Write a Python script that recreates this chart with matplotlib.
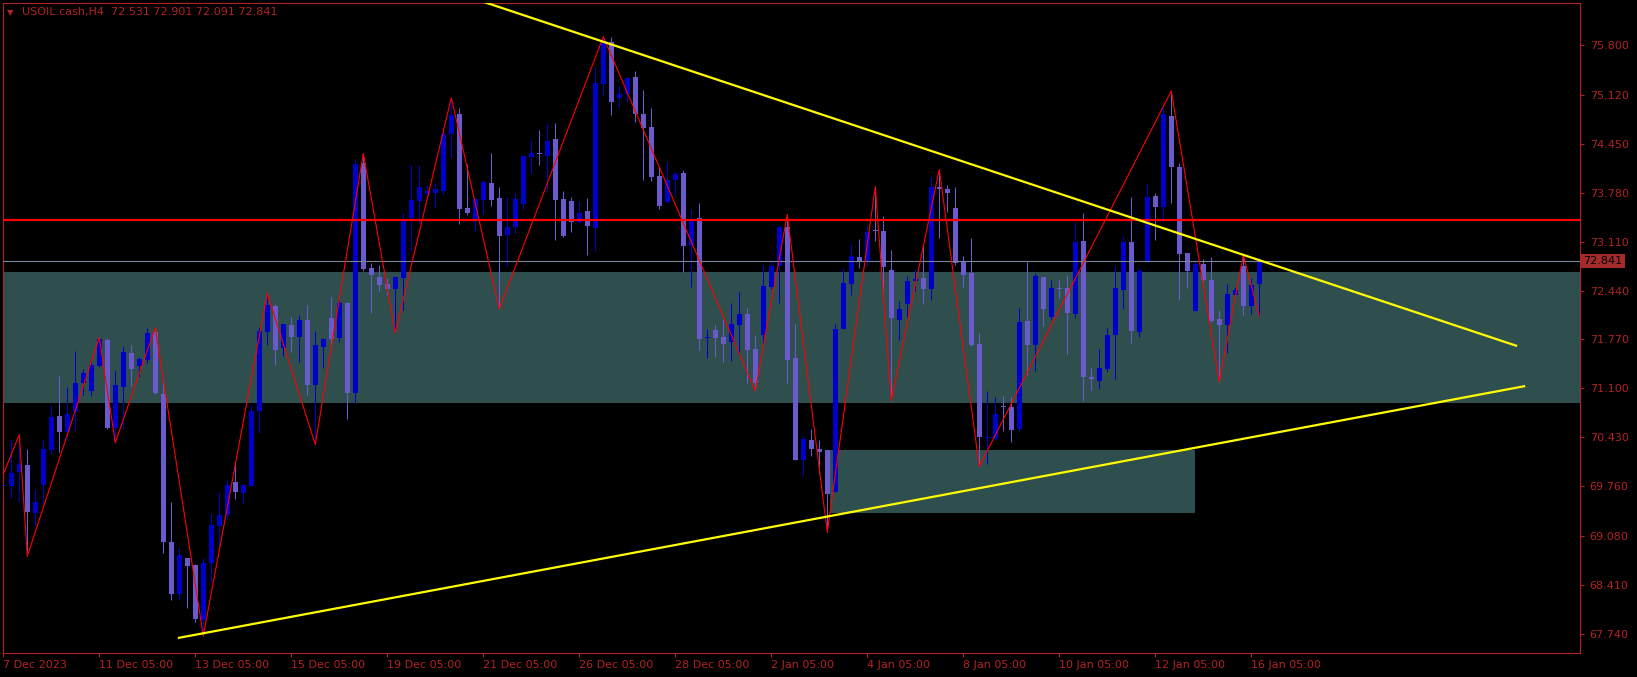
import matplotlib
matplotlib.use('Agg')
import matplotlib.pyplot as plt
import matplotlib.transforms as mtransforms
from matplotlib.patches import Rectangle
import numpy as np

# USOIL.cash H4 candles, 7 Dec 2023 -> 16 Jan 2024 (bar index 0..157)
opens = [
    69.758, 69.769, 69.949, 70.053, 69.392, 69.774, 70.260, 70.724, 70.506, 70.779,
    71.177, 71.068, 71.412, 71.762, 70.560, 71.123, 71.587, 71.407, 71.494, 71.871,
    71.025, 68.993, 68.283, 68.775, 68.682, 67.928, 68.709, 69.212, 69.359, 69.823,
    69.665, 69.769, 70.795, 71.877, 72.226, 71.653, 71.969, 71.806, 72.035, 71.145,
    71.669, 72.062, 71.795, 72.270, 71.030, 74.181, 72.750, 72.625, 72.532, 72.461,
    72.614, 73.433, 73.673, 73.761, 73.782, 73.810, 74.591, 74.858, 73.569, 73.417,
    73.684, 73.913, 73.706, 73.198, 73.313, 73.619, 74.274, 74.323, 74.285, 74.514,
    73.690, 73.673, 73.373, 73.526, 73.296, 75.273, 75.847, 75.071, 75.126, 75.366,
    74.858, 74.683, 74.012, 73.657, 73.957, 74.055, 73.045, 73.433, 71.784, 71.898,
    71.806, 71.734, 71.975, 72.117, 71.642, 71.833, 72.488, 72.778, 73.313, 71.516,
    70.124, 70.397, 70.276, 70.249, 69.686, 71.915, 72.532, 72.898, 72.827, 73.264,
    73.253, 72.728, 72.040, 72.253, 72.565, 72.614, 72.461, 73.864, 73.826, 73.569,
    72.843, 72.679, 71.707, 70.424, 70.413, 70.861, 70.850, 70.549, 72.024, 71.696,
    72.625, 72.079, 72.477, 72.477, 72.122, 73.122, 71.254, 71.205, 71.369, 71.833,
    72.450, 73.105, 71.871, 72.832, 73.733, 73.591, 74.836, 74.137, 72.952, 72.160,
    72.805, 72.586, 72.051, 71.969, 72.379, 72.778, 72.226, 72.531,
]
highs = [
    69.867, 70.413, 70.468, 70.276, 69.703, 70.397, 70.877, 71.270, 71.123, 71.614,
    71.363, 71.505, 71.795, 71.795, 71.352, 71.680, 71.696, 71.532, 71.931, 71.931,
    71.232, 69.539, 68.928, 68.775, 68.693, 68.775, 69.386, 69.676, 69.840, 70.085,
    69.796, 70.877, 71.942, 72.401, 72.259, 71.986, 72.079, 72.106, 72.242, 71.888,
    71.795, 72.352, 72.308, 72.281, 74.225, 74.318, 72.816, 72.789, 72.608, 72.636,
    73.498, 74.154, 74.165, 73.881, 73.908, 74.645, 75.082, 74.935, 74.170, 73.690,
    73.952, 74.318, 73.864, 73.728, 73.782, 74.301, 74.498, 74.634, 74.716, 74.738,
    73.799, 73.722, 73.662, 73.706, 75.503, 75.918, 75.912, 75.246, 75.366, 75.448,
    75.191, 74.946, 74.126, 74.203, 74.072, 74.094, 73.564, 73.646, 71.915, 71.969,
    72.051, 72.270, 72.423, 72.204, 71.833, 72.789, 72.860, 73.324, 73.482, 71.980,
    70.468, 70.549, 70.397, 70.260, 71.980, 72.745, 73.078, 73.143, 73.318, 73.864,
    73.455, 72.996, 72.297, 72.641, 72.734, 73.078, 73.990, 74.099, 73.892, 73.853,
    72.914, 73.154, 71.860, 71.068, 70.986, 70.997, 70.986, 72.199, 72.832, 72.679,
    72.625, 72.586, 72.586, 72.652, 73.373, 73.498, 71.380, 71.642, 71.926, 72.778,
    73.182, 73.728, 72.750, 73.908, 73.782, 75.000, 75.175, 74.192, 72.952, 72.843,
    72.870, 72.898, 72.171, 72.532, 72.488, 72.925, 72.614, 72.901,
]
lows = [
    69.567, 69.594, 69.539, 68.802, 69.212, 69.512, 70.195, 70.222, 70.386, 70.522,
    71.014, 70.997, 71.396, 70.539, 70.358, 70.549, 71.134, 71.259, 71.450, 71.025,
    68.851, 68.201, 68.201, 68.092, 67.901, 67.710, 68.446, 68.939, 69.293, 69.578,
    69.523, 69.758, 70.495, 71.696, 71.423, 71.543, 71.603, 71.467, 71.014, 70.331,
    71.385, 71.669, 71.734, 70.686, 70.904, 72.707, 72.133, 72.434, 72.379, 71.860,
    72.171, 72.980, 73.362, 73.690, 73.591, 73.744, 74.263, 73.345, 73.471, 73.253,
    73.488, 73.597, 72.188, 72.772, 73.209, 73.553, 74.055, 74.154, 73.799, 73.138,
    73.171, 73.236, 73.345, 72.925, 72.980, 75.120, 74.847, 74.935, 75.028, 74.744,
    73.952, 73.946, 73.564, 73.646, 73.744, 72.690, 72.488, 71.625, 71.516, 71.532,
    71.461, 71.472, 71.560, 71.177, 71.068, 71.696, 72.461, 72.270, 71.167, 70.113,
    69.905, 70.167, 69.921, 69.130, 69.676, 71.915, 72.379, 72.750, 72.772, 73.116,
    72.341, 70.932, 71.762, 72.079, 72.434, 72.259, 72.313, 73.154, 73.515, 72.789,
    72.488, 71.680, 70.031, 70.058, 70.386, 70.511, 70.369, 70.522, 71.287, 71.341,
    71.953, 72.035, 72.341, 71.576, 72.062, 70.921, 71.079, 71.096, 71.330, 71.232,
    72.188, 71.724, 71.806, 72.827, 73.127, 73.373, 73.646, 72.313, 72.477, 72.160,
    72.554, 72.013, 71.188, 71.587, 72.352, 72.106, 72.117, 72.091,
]
closes = [
    69.780, 69.943, 70.058, 69.408, 69.539, 70.271, 70.708, 70.506, 70.752, 71.172,
    71.308, 71.418, 71.778, 70.560, 71.145, 71.598, 71.369, 71.500, 71.860, 71.041,
    68.993, 68.283, 68.818, 68.665, 67.939, 68.709, 69.222, 69.365, 69.774, 69.681,
    69.774, 70.784, 71.888, 72.242, 71.625, 71.980, 71.806, 72.035, 71.145, 71.696,
    71.778, 71.778, 72.270, 71.041, 74.170, 72.734, 72.647, 72.515, 72.461, 72.625,
    73.427, 73.679, 73.853, 73.799, 73.837, 74.591, 74.847, 73.564, 73.509, 73.690,
    73.930, 73.684, 73.182, 73.307, 73.690, 74.279, 74.323, 74.312, 74.487, 73.684,
    73.182, 73.373, 73.509, 73.318, 75.284, 75.847, 75.028, 75.137, 75.355, 74.864,
    74.673, 73.990, 73.602, 73.952, 74.039, 73.045, 73.417, 71.778, 71.800, 71.795,
    71.713, 71.980, 72.117, 71.631, 71.167, 72.504, 72.778, 73.313, 71.494, 70.124,
    70.413, 70.276, 70.233, 69.659, 71.915, 72.543, 72.914, 72.827, 73.242, 73.253,
    72.756, 72.062, 72.188, 72.570, 72.597, 72.461, 73.853, 73.826, 73.782, 72.816,
    72.652, 71.696, 70.440, 70.440, 70.752, 70.839, 70.533, 72.008, 71.696, 72.641,
    72.188, 72.477, 72.466, 72.133, 73.100, 71.259, 71.232, 71.380, 71.833, 72.477,
    73.105, 71.888, 72.707, 73.728, 73.591, 74.853, 74.137, 72.941, 72.707, 72.805,
    72.586, 72.024, 71.969, 72.395, 72.450, 72.226, 72.515, 72.841,
]

# zigzag swing points (bar, price)
zz_bars = [0, 2, 3, 12, 14, 19, 25, 33, 39, 45, 49, 56, 62, 75, 94, 98, 103,
           109, 111, 117, 122, 146, 152, 155, 157]
zz_prices = [69.921, 70.468, 68.802, 71.795, 70.358, 71.931, 67.710, 72.401,
             70.331, 74.318, 71.860, 75.082, 72.188, 75.918, 71.068, 73.482,
             69.130, 73.864, 70.932, 74.099, 70.031, 75.175, 71.188, 72.925, 72.091]

# drawn objects
upper_trend_bars = [60.3, 189.1]
upper_trend_prices = [76.385, 71.685]
lower_trend_bars = [21.96, 190.1]
lower_trend_prices = [67.683, 71.129]
resistance_level = 73.40
bid_price = 72.841
zone_main = (70.904, 72.695)
zone_small_bars = (103.4, 149.0)
zone_small_prices = (69.39, 70.249)

tick_prices = [75.800, 75.120, 74.450, 73.780, 73.110, 72.440, 71.770,
               71.100, 70.430, 69.760, 69.080, 68.410, 67.740]
date_tick_bars = list(range(0, 157, 12))
date_labels = ['7 Dec 2023', '11 Dec 05:00', '13 Dec 05:00', '15 Dec 05:00',
               '19 Dec 05:00', '21 Dec 05:00', '26 Dec 05:00', '28 Dec 05:00',
               '2 Jan 05:00', '4 Jan 05:00', '8 Jan 05:00', '10 Jan 05:00',
               '12 Jan 05:00', '16 Jan 05:00']

FG = '#b22222'
BULL = '#0000cd'
BEAR = '#6a5acd'
W, H = 1637, 677

fig = plt.figure(figsize=(W / 100, H / 100), dpi=100, facecolor='black')
ax = fig.add_axes([2.5 / W, 24 / H, 1577.5 / W, 650.5 / H])
ax.set_facecolor('black')
ax.set_xlim(-0.1, 197.09)
ax.set_ylim(67.475, 76.386)

o = np.array(opens); h = np.array(highs); l = np.array(lows); c = np.array(closes)
x = np.arange(len(o))
cols = np.where(c >= o, BULL, BEAR)

# zones behind candles
ax.axhspan(zone_main[0], zone_main[1], color='#2f4f4f', zorder=0, lw=0)
ax.add_patch(Rectangle((zone_small_bars[0], zone_small_prices[0]),
                       zone_small_bars[1] - zone_small_bars[0],
                       zone_small_prices[1] - zone_small_prices[0],
                       color='#2f4f4f', zorder=0, lw=0))

# candles
ax.vlines(x, l, h, colors=cols, linewidth=0.75, zorder=2)
body_low = np.minimum(o, c)
body_h = np.maximum(np.abs(c - o), 0.014)
ax.bar(x, body_h, bottom=body_low, width=0.62, color=cols, linewidth=0, zorder=3)

# lines
ax.axhline(resistance_level, color='#ff0000', lw=1.6, zorder=4)
ax.axhline(bid_price, color='#778899', lw=0.8, zorder=4)
ax.plot(zz_bars, zz_prices, color='#ff0000', lw=0.8, zorder=5)
ax.plot(upper_trend_bars, upper_trend_prices, color='#ffff00', lw=1.6, zorder=6)
ax.plot(lower_trend_bars, lower_trend_prices, color='#ffff00', lw=1.6, zorder=6)

# axes styling
for s in ax.spines.values():
    s.set_color(FG)
    s.set_linewidth(0.8)
ax.yaxis.tick_right()
ax.set_yticks(tick_prices)
ax.set_yticklabels([f'{v:.3f}' for v in tick_prices])
ax.set_xticks(date_tick_bars)
ax.set_xticklabels(date_labels, ha='left')
ax.tick_params(axis='both', colors=FG, labelcolor=FG, labelsize=8,
               direction='out', length=3, width=0.8)
ax.tick_params(axis='y', pad=4)
ax.tick_params(axis='x', pad=2)

# current price tag
trans = mtransforms.blended_transform_factory(ax.transAxes, ax.transData)
ax.text(1.0 + 3.5 / 1577.5, bid_price, f'{bid_price:.3f}', transform=trans,
        ha='left', va='center', fontsize=8, color='black',
        bbox=dict(boxstyle='square,pad=0.18', fc='#a52a2a', ec='none'), zorder=10)

# header
fig.text(7 / W, 1 - 12.5 / H, '\u25bc', color=FG, fontsize=6, va='center', ha='left')
fig.text(22 / W, 1 - 12.5 / H, 'USOIL.cash,H4  72.531 72.901 72.091 72.841',
         color=FG, fontsize=8, va='center', ha='left')

fig.savefig('out.png', dpi=100, facecolor='black')
